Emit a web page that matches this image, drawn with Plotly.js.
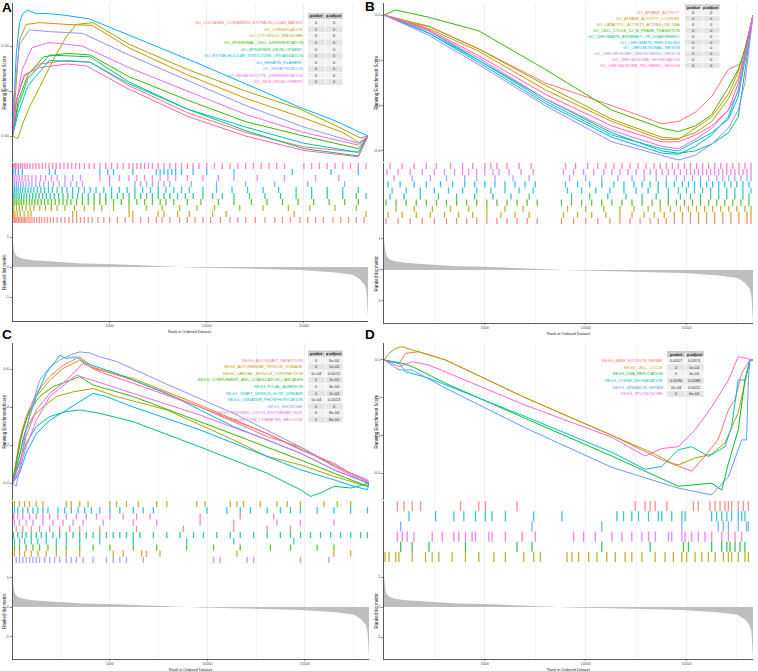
<!DOCTYPE html>
<html><head><meta charset="utf-8">
<script src="https://cdn.plot.ly/plotly-3.0.1.min.js"></script>
<style>html,body{margin:0;padding:0;background:#fff}#chart{width:758px;height:671px}</style>
</head><body><div id="chart"></div>
<script>
const N = 18300;
// ranked list metric (shared by all panels)
const rankX = [0,35,70,140,275,530,1050,1900,3620,5000,6200,7570,8300,8800,9630,11350,13070,14780,16500,17530,17870,18130,18220,18270,18300];
const rankY = [1.0,0.74,0.58,0.43,0.34,0.28,0.23,0.19,0.12,0.1,0.07,0.02,0,-0.005,-0.02,-0.04,-0.07,-0.1,-0.17,-0.26,-0.4,-0.6,-0.8,-1.65,-1.7];
const rankTicks = [5000,10000,15000];
const rankTickText = ["5000","10000","15000"];

// ---------------- Panel A ----------------
const namesA = ["GO_COLLAGEN_CONTAINING_EXTRACELLULAR_MATRIX","GO_CORNIFICATION","GO_CYTOSOLIC_RIBOSOME","GO_EPIDERMAL_CELL_DIFFERENTIATION","GO_EPIDERMIS_DEVELOPMENT","GO_EXTRACELLULAR_STRUCTURE_ORGANIZATION","GO_KERATIN_FILAMENT","GO_KERATINIZATION","GO_KERATINOCYTE_DIFFERENTIATION","GO_SKIN_DEVELOPMENT"];
const pvalueA = ["0","0","0","0","0","0","0","0","0","0"];
const padjA = ["0","0","0","0","0","0","0","0","0","0"];
const esA1 = [[0,0],[200,0.2],[600,0.33],[1400,0.40],[2800,0.42],[4000,0.41],[6000,0.28],[9000,0.13],[12000,0.02],[15000,-0.06],[17800,-0.09],[18300,0]];
const esA2 = [[0,0],[350,0.53],[700,0.62],[1400,0.63],[2800,0.62],[4100,0.615],[6000,0.49],[9000,0.34],[12000,0.21],[15000,0.1],[17000,0.02],[17900,-0.04],[18300,0]];
const esA3 = [[0,0],[275,-0.013],[530,0.07],[870,0.16],[1390,0.27],[2080,0.42],[2760,0.55],[3280,0.62],[4140,0.63],[6000,0.51],[9000,0.37],[12000,0.25],[14800,0.15],[16800,0.05],[17900,-0.01],[18300,0]];
const esA4 = [[0,0],[300,0.2],[800,0.34],[1600,0.44],[2800,0.46],[4000,0.45],[6000,0.33],[9000,0.2],[12000,0.08],[15000,0.0],[17800,-0.07],[18300,0]];
const esA5 = [[0,0],[300,0.17],[800,0.32],[1900,0.45],[4000,0.44],[6000,0.30],[9000,0.15],[12000,0.03],[15000,-0.07],[17800,-0.11],[18300,0]];
const esA6 = [[0,0],[300,0.13],[800,0.28],[1900,0.42],[4000,0.41],[6000,0.29],[9000,0.15],[12000,0.05],[15000,-0.04],[17800,-0.09],[18300,0]];
const esA7 = [[0,0],[190,0.45],[360,0.63],[530,0.68],[790,0.70],[1220,0.68],[1900,0.68],[2760,0.67],[3970,0.65],[6200,0.55],[9630,0.40],[13070,0.24],[14780,0.16],[16500,0.09],[18220,0.0],[18300,0]];
const esA8 = [[0,0],[50,0.2],[360,0.51],[875,0.59],[1900,0.58],[3620,0.57],[6000,0.45],[9000,0.31],[12000,0.17],[15000,0.05],[17800,-0.04],[18300,0]];
const esA9 = [[0,0],[100,0.12],[500,0.37],[1000,0.49],[1900,0.52],[3600,0.5],[6000,0.38],[9000,0.25],[12000,0.12],[15000,0.02],[17800,-0.05],[18300,0]];
const esA10 = [[0,0],[200,0.2],[600,0.34],[1400,0.38],[2800,0.40],[3800,0.39],[6000,0.26],[9000,0.11],[12000,0.0],[15000,-0.08],[17800,-0.115],[18300,0]];
const hitsA1 = [30,90,150,220,300,380,460,540,620,700,800,900,1000,1120,1250,1380,1500,1650,1800,1950,2100,2300,2500,2700,2900,3100,3300,3500,3700,3900,4100,4400,4700,5000,5400,5800,6200,6600,7000,7400,7700,8100,8600,9000,9400,9800,10200,10700,11200,11600,12000,12500,13000,13500,13900,14300,14800,15200,15600,16000,16500,16900,17300,17700,18100];
const hitsA2 = [40,120,250,400,600,800,950,3100,3300,6000,6200,7500,7800,8500,9100,10300,11000,14500,18200];
const hitsA3 = [60,200,350,500,700,900,1100,1400,1700,2000,2300,2700,3200,3700,4200,4600,5200,6000,6900,7700,8600,9500,10400,11700,12900,14200,15300,16600,17700];
const hitsA4 = [30,120,220,330,450,580,720,860,1000,1150,1300,1480,1650,1830,2000,2200,2400,2600,2800,3000,3300,3600,3900,4200,4500,4800,5200,5600,6000,6400,6800,7200,7600,7900,8300,9000,9700,10600,11400,12300,13100,13900,14700,15500,16300,17100,17800];
const hitsA5 = [40,130,230,340,460,590,730,880,1040,1200,1370,1550,1740,1940,2150,2370,2600,2850,3100,3350,3600,3900,4200,4500,4800,5100,5400,5700,6000,6300,6600,6900,7200,7500,7800,8100,8500,8900,9300,9800,10300,10800,11400,12200,13000,13800,14600,15400,16200,17000,17700,18200];
const hitsA6 = [20,100,190,290,400,520,650,800,950,1100,1280,1460,1650,1850,2050,2300,2550,2800,3100,3400,3700,4000,4300,4700,5100,5500,5900,6300,6700,7100,7500,7900,8300,8700,9100,9800,10500,11300,12100,12900,13700,14600,15400,16200,17000,17800];
const hitsA7 = [30,150,300,500,1900,2200,4500,4900,5200,6200,7400,7600,7800,8000,8200,8400,8700,9300,10000,11400,14400,16400,17800];
const hitsA8 = [20,100,200,300,420,550,700,850,1000,1200,1400,1600,1850,2100,2400,2700,3000,3300,3600,5000,6300,6600,6900,7200,7500,7800,8100,9200,10500,12000,13500,15200,17100];
const hitsA9 = [30,120,230,350,500,650,800,1000,1200,1450,1700,2000,2300,2700,3100,3500,4500,5000,5500,6000,6400,6800,7200,7600,8000,8400,9000,9800,10600,11400,12600,14000,15600,16800];
const hitsA10 = [20,80,150,230,320,420,520,640,760,900,1050,1200,1360,1530,1700,1880,2060,2250,2450,2650,2850,3050,3250,3450,3700,3950,4200,4500,4800,5100,5400,5700,6000,6200,6400,6600,6800,7000,7200,7500,7800,8100,8400,8700,9000,9300,9600,10000,10400,10800,11200,11600,12000,12400,12800,13200,13600,14000,15000,15400,15800,16200,16600,17000,17400,17800,18200];
const rowsA = [0,1,2,3,4,5,8,6,7,9];

// ---------------- Panel B ----------------
const namesB = ["GO_ATPASE_ACTIVITY","GO_ATPASE_ACTIVITY_COUPLED","GO_CATALYTIC_ACTIVITY_ACTING_ON_DNA","GO_CELL_CYCLE_G2_M_PHASE_TRANSITION","GO_CHROMATIN_ASSEMBLY_OR_DISASSEMBLY","GO_CHROMATIN_REMODELING","GO_CHROMOSOMAL_REGION","GO_CHROMOSOME_CENTROMERIC_REGION","GO_CHROMOSOME_SEGREGATION","GO_CHROMOSOME_TELOMERIC_REGION"];
const pvalueB = ["0","0","0","0","0","0","0","0","0","0"];
const padjB = ["0","0","0","0","0","0","0","0","0","0"];
const esB1 = [[0,0],[1000,-0.03],[2228,-0.05],[4700,-0.15],[8000,-0.30],[11300,-0.40],[13780,-0.48],[14600,-0.47],[15430,-0.43],[16250,-0.36],[17080,-0.24],[17570,-0.22],[17900,-0.2],[18300,0]];
const esB2 = [[0,0],[2228,-0.06],[4700,-0.16],[8000,-0.33],[11300,-0.47],[13780,-0.55],[14600,-0.55],[15430,-0.50],[16250,-0.45],[17080,-0.35],[17570,-0.25],[17900,-0.15],[18300,0]];
const esB3 = [[0,0],[2228,-0.05],[4700,-0.15],[8000,-0.31],[11300,-0.46],[13780,-0.54],[14600,-0.545],[15430,-0.52],[16250,-0.47],[17080,-0.37],[17570,-0.28],[17900,-0.17],[18300,0]];
const esB4 = [[0,0],[578,0.022],[2228,-0.01],[4700,-0.07],[8000,-0.24],[11300,-0.42],[13780,-0.50],[14600,-0.515],[15430,-0.49],[16250,-0.44],[17080,-0.32],[17570,-0.24],[17900,-0.15],[18300,0]];
const esB5 = [[0,0],[2228,-0.07],[4700,-0.2],[8000,-0.37],[11300,-0.52],[13780,-0.60],[14600,-0.61],[15430,-0.60],[16250,-0.57],[17080,-0.52],[17570,-0.45],[17900,-0.25],[18300,0]];
const esB6 = [[0,0],[2228,-0.08],[4700,-0.2],[8000,-0.38],[11300,-0.53],[13780,-0.59],[14600,-0.60],[15430,-0.56],[16250,-0.52],[17080,-0.46],[17570,-0.36],[17900,-0.2],[18300,0]];
const esB7 = [[0,0],[2228,-0.08],[4700,-0.21],[8000,-0.39],[11300,-0.54],[13780,-0.61],[14600,-0.615],[15430,-0.58],[16250,-0.53],[17080,-0.45],[17570,-0.33],[17900,-0.18],[18300,0]];
const esB8 = [[0,0],[2228,-0.09],[4700,-0.22],[8000,-0.40],[11300,-0.56],[13780,-0.62],[14600,-0.64],[15430,-0.62],[16250,-0.57],[17080,-0.5],[17570,-0.42],[17900,-0.3],[18300,0]];
const esB9 = [[0,0],[2228,-0.07],[4700,-0.19],[8000,-0.37],[11300,-0.51],[13780,-0.58],[14600,-0.59],[15430,-0.55],[16250,-0.5],[17080,-0.42],[17570,-0.34],[17900,-0.2],[18300,0]];
const esB10 = [[0,0],[2228,-0.065],[4700,-0.18],[8000,-0.35],[11300,-0.49],[13780,-0.56],[14600,-0.56],[15430,-0.53],[16250,-0.49],[17080,-0.42],[17570,-0.3],[17900,-0.17],[18300,0]];
const hitsB1 = [100,700,1300,1900,2500,3100,3600,4100,4600,5100,5600,6100,6600,7100,7600,8800,9400,10000,10600,11200,11700,12200,12700,13200,13600,14000,14400,14800,15200,15600,16000,16400,16800,17200,17600,18000,18200];
const hitsB2 = [200,900,1600,2300,3000,3700,4400,5100,5800,6500,7200,8900,9600,10300,11000,11700,12300,12900,13400,13900,14400,14800,15200,15600,16000,16400,16800,17200,17600,18000,18200];
const hitsB3 = [600,1500,2400,3300,4200,5100,6000,6900,9100,10000,10900,11700,12400,13100,13700,14200,14700,15100,15500,15900,16300,16700,17100,17500,17900,18200];
const hitsB4 = [100,600,1100,1600,2100,2600,3100,3600,4100,4600,5100,5600,6100,6600,7100,7600,8800,9300,9800,10300,10800,11300,11800,12300,12800,13300,13700,14100,14500,14900,15300,15700,16100,16500,16900,17300,17700,18100];
const hitsB5 = [300,1000,1800,2700,3600,4500,5400,6300,7200,9300,10200,11100,12000,12800,13500,14100,14700,15200,15700,16200,16600,17000,17400,17800,18100];
const hitsB6 = [400,1100,1800,2500,3200,3900,4600,5300,6000,6700,7400,9100,9800,10500,11200,11900,12500,13100,13600,14100,14600,15000,15400,15800,16200,16600,17000,17400,17800,18200];
const hitsB7 = [200,800,1500,2100,2800,3400,4000,4500,5000,5500,6000,6500,7000,7500,9000,9600,10200,10800,11400,11900,12400,12800,13200,13600,14000,14400,14800,15100,15400,15700,16000,16300,16600,16900,17200,17500,17800,18100];
const hitsB8 = [500,1400,2300,3100,4000,4600,5500,6400,7200,9200,10000,10800,11600,12300,12900,13500,14000,14500,14900,15300,15700,16100,16500,16800,17100,17400,17700,18000,18200];
const hitsB9 = [150,700,1300,1900,2500,3000,3500,3900,4200,4600,5000,5400,5700,6200,6800,7400,8900,9400,9900,10400,10900,11300,11700,12100,12500,12900,13200,13500,13800,14100,14400,14700,15000,15200,15400,15600,15800,16000,16200,16400,16600,16800,17000,17200,17400,17600,17800,18000,18200];
const hitsB10 = [300,900,1500,2100,2600,3300,3900,4400,5000,5300,5600,6100,6700,7300,9000,9500,10100,10600,11000,11400,11800,12200,12600,13000,13400,13700,14000,14300,14600,14900,15200,15500,15800,16100,16400,16700,17000,17300,17600,17900,18200];
const rowsB = [0,1,2,3,4,5,6,7,8,9];

// ---------------- Panel C ----------------
const namesC = ["KEGG_ALLOGRAFT_REJECTION","KEGG_AUTOIMMUNE_THYROID_DISEASE","KEGG_CARDIAC_MUSCLE_CONTRACTION","KEGG_COMPLEMENT_AND_COAGULATION_CASCADES","KEGG_FOCAL_ADHESION","KEGG_GRAFT_VERSUS_HOST_DISEASE","KEGG_OXIDATIVE_PHOSPHORYLATION","KEGG_RIBOSOME","KEGG_SYSTEMIC_LUPUS_ERYTHEMATOSUS","KEGG_TYPE_I_DIABETES_MELLITUS"];
const pvalueC = ["0","0","1e-04","0","0","0","1e-04","0","0","0"];
const padjC = ["6e-04","1e-04","0.0015","2e-04","3e-04","2e-04","0.0013","0","8e-04","8e-04"];
const esC1 = [[0,0],[360,0.227],[700,0.35],[1220,0.472],[1910,0.56],[2590,0.62],[3280,0.656],[3450,0.664],[4140,0.61],[6200,0.54],[9630,0.40],[13070,0.245],[14780,0.19],[16500,0.087],[18220,0],[18300,0]];
const esC2 = [[0,0],[360,0.21],[700,0.33],[1220,0.455],[1910,0.54],[2590,0.603],[3280,0.638],[3450,0.647],[4140,0.603],[6200,0.55],[9630,0.41],[13070,0.26],[14780,0.18],[16500,0.096],[18220,0.009],[18300,0]];
const esC3 = [[0,0],[360,0.14],[700,0.28],[1050,0.35],[1560,0.40],[2250,0.455],[3110,0.48],[4140,0.498],[5340,0.455],[7920,0.385],[11350,0.227],[13070,0.14],[14780,0.096],[16500,0.035],[18220,-0.017],[18300,0]];
const esC4 = [[0,0],[275,0.14],[530,0.28],[880,0.385],[1390,0.455],[2080,0.507],[2760,0.533],[3450,0.56],[4140,0.516],[6200,0.455],[9630,0.323],[13070,0.19],[14780,0.122],[16500,0.052],[18220,-0.017],[18300,0]];
const esC5 = [[0,0],[360,0.105],[700,0.21],[1220,0.297],[1910,0.35],[2760,0.376],[3450,0.385],[4480,0.367],[6200,0.323],[9630,0.19],[13070,0.052],[14780,-0.035],[15300,-0.07],[15810,-0.052],[16500,-0.017],[17360,-0.026],[18220,0],[18300,0]];
const esC6 = [[0,0],[275,0.105],[530,0.227],[880,0.35],[1220,0.455],[1730,0.577],[2250,0.647],[2420,0.673],[2760,0.656],[3280,0.664],[3800,0.63],[5340,0.577],[7920,0.472],[11350,0.297],[14780,0.157],[16500,0.07],[18220,0],[18300,0]];
const esC7 = [[0,0],[360,0.052],[700,0.157],[1220,0.26],[1910,0.33],[2760,0.385],[3620,0.437],[4140,0.472],[4820,0.455],[6200,0.40],[9630,0.28],[13070,0.14],[14780,0.07],[16500,0.017],[17530,-0.017],[18220,-0.035],[18300,0]];
const esC8 = [[0,0],[190,-0.017],[360,0.07],[700,0.28],[1050,0.42],[1390,0.54],[1910,0.61],[2420,0.647],[3110,0.68],[3450,0.69],[3970,0.685],[4480,0.664],[5340,0.64],[7920,0.52],[11350,0.367],[14780,0.19],[16500,0.095],[18220,0.009],[18300,0]];
const esC9 = [[0,0],[360,0.07],[700,0.19],[1220,0.33],[1910,0.455],[2760,0.525],[3280,0.568],[4140,0.54],[6200,0.472],[9630,0.358],[13070,0.227],[14780,0.157],[16500,0.07],[18220,0],[18300,0]];
const esC10 = [[0,0],[360,0.105],[700,0.245],[1220,0.385],[1910,0.472],[2760,0.54],[3280,0.594],[3620,0.63],[4480,0.585],[6200,0.525],[9630,0.40],[13070,0.26],[14780,0.175],[16500,0.105],[17200,0.06],[18220,0.017],[18300,0]];
const hitsC1 = [190,530,960,1390,1910,2420,2940,3450,4480,6370,8770,11350,13070,14270];
const hitsC2 = [100,360,620,960,1300,1730,2250,2760,3450,5170,5680,6630,6880,7570,11520,16500,17360];
const hitsC3 = [100,360,620,880,1220,1560,2760,3020,3450,3880,5000,5340,5850,6460,7400,7920,9460,9890,11180,11520,11860,12720,13580,14100,14780,15990,16670,17360];
const hitsC4 = [100,360,700,1050,1390,1820,2250,2760,3450,4140,5000,6200,7400,8940,10320,11690,13240,14270,15640,16500];
const hitsC5 = [50,270,500,700,960,1220,1480,1730,2080,2420,2760,3110,3450,3790,4140,4480,4820,5170,5510,5850,6200,6540,7230,7920,8600,9290,9800,10490,11180,11690,12380,13070,13750,14270,14780,15300,15810,16330,16840,17360,17870,18220];
const hitsC6 = [100,360,620,960,1300,1730,2250,2760,3450,4480,6200,8940,11350,14440];
const hitsC7 = [100,270,530,790,1050,1300,1560,1820,2330,2680,3020,3370,3710,4050,4480,5000,5510,6200,6710,7230,9980,11000,11690,12210,13070,13750,14270,14780,15640,16500,17360,18220];
const hitsC8 = [190,360,530,700,880,1050,1220,1390,1650,1910,2160,2420,2760,3020,3280,3620,4140,4820,5170,5510,5850,6710,10320,10660,12040,12380,14780,16240];
const hitsC9 = [100,360,700,1050,1560,2080,2590,3110,3620,4650,6200,7400,9630,11350,13580,14780,16500];
const hitsC10 = [50,270,530,880,1220,1560,1910,2330,2760,3280,3790,4310,5000,5680,6370,7060,9630,11690,13410];
const rowsC = [5,1,9,2,4,3,8,0,6,7];

// ---------------- Panel D ----------------
const namesD = ["KEGG_BASE_EXCISION_REPAIR","KEGG_CELL_CYCLE","KEGG_DNA_REPLICATION","KEGG_LYSINE_DEGRADATION","KEGG_MISMATCH_REPAIR","KEGG_SPLICEOSOME"];
const pvalueD = ["0.0057","0","0","0.0036","2e-04","0"];
const padjD = ["0.0374","1e-04","3e-04","0.0288","0.0021","6e-04"];
const esD1 = [[0,0],[743,-0.018],[1073,0.035],[1733,0.044],[3053,0],[7000,-0.2],[11300,-0.40],[13780,-0.53],[15260,-0.59],[15920,-0.51],[16580,-0.42],[17080,-0.265],[17410,-0.21],[17740,-0.07],[18150,0],[18300,0]];
const esD2 = [[0,0],[248,0.035],[578,0.062],[908,0.07],[1400,0.053],[2228,0.027],[3053,0],[7000,-0.2],[11300,-0.40],[13450,-0.50],[14270,-0.548],[14600,-0.557],[15430,-0.52],[16250,-0.50],[16910,-0.44],[17570,-0.28],[17900,-0.12],[18150,0],[18300,0]];
const esD3 = [[0,0],[908,-0.018],[1403,-0.035],[3053,-0.124],[7000,-0.31],[11300,-0.51],[14600,-0.67],[16250,-0.654],[16750,-0.69],[17080,-0.548],[17570,-0.37],[17900,-0.106],[18150,0],[18300,0]];
const esD4 = [[0,0],[743,-0.018],[1073,-0.062],[2228,-0.097],[7000,-0.30],[11300,-0.49],[12950,-0.58],[13780,-0.565],[14600,-0.477],[15260,-0.46],[16090,-0.512],[16910,-0.46],[17240,-0.353],[17570,-0.106],[17900,-0.106],[18150,0],[18300,0]];
const esD5 = [[0,0],[743,-0.053],[1403,-0.053],[3053,-0.15],[7000,-0.36],[11300,-0.57],[14600,-0.68],[16250,-0.716],[17080,-0.62],[17570,-0.48],[17740,-0.424],[17980,-0.424],[18070,-0.106],[18150,0],[18300,0]];
const esD6 = [[0,0],[743,-0.035],[1400,-0.009],[2228,-0.027],[7000,-0.24],[11300,-0.41],[12950,-0.51],[13780,-0.47],[14600,-0.46],[15430,-0.37],[16250,-0.25],[17080,-0.106],[17570,0.018],[17900,0.01],[18150,0],[18300,0]];
const hitsD1 = [660,990,1400,1815,3795,4700,5030,6600,12460,12950,13200,13450,14025,15345,15590,16170,16420,16665,16910,17080,17240,17570,17820,18070];
const hitsD2 = [50,250,580,740,1400,2060,2390,2720,3380,4040,4700,5450,6020,6930,7425,7750,9075,9320,9650,10150,10560,11050,11470,11960,12290,12790,13450,13940,14350,14770,15010,15430,15760,16090,16420,16830,17080,17240,17570,17900,18070];
const hitsD3 = [825,1400,2230,4040,6600,7340,10800,13200,14850,15100,16250,16750,17000,17160,17410,17660,17900];
const hitsD4 = [1240,2560,3465,3960,4540,5030,5360,6020,7425,8830,11550,11880,12290,12620,13120,13610,13780,14270,14770,14930,16250,16500,16750,17000,17240,17570,17740,17900];
const hitsD5 = [825,7340,10800,14770,16580,16830,17080,17570,17980,18070];
const hitsD6 = [660,908,1155,1485,2390,2890,3465,3710,4040,4370,4540,5200,5360,6020,6850,7500,9400,9900,10480,11300,11800,12290,12790,13120,13450,14110,14270,14770,14930,15260,15590,15920,16250,16750,17080,17410,17740];
const rowsD = [5,0,1,4,3,2];

const colors10 = ["#F8766D","#D89000","#A3A500","#39B600","#00BF7D","#00BFC4","#00B0F6","#9590FF","#E76BF3","#FF62BC"];
const colors6 = ["#F8766D","#B79F00","#00BA38","#00BFC4","#619CFF","#F564E3"];

// ---------------- layout geometry (pixels) ----------------
const W = 758, H = 671;
const X = px => px / W, Y = py => 1 - py / H;
const geo = [
 {x0:12.5,x1:368,es:[3,162],rug:[163,223],rk:[223,321],esR:[-0.144,0.739],rkR:[-1.8,1.47],esT:[0,0.25,0.5],esL:["0.00","0.25","0.50"],lab:"A",lx:1,ly:-1,ytx:4,xtY:331.5,tb:{x0:308,cw:17,yh:16,st:6.6,nx:304}},
 {x0:384,x1:753,es:[3,162],rug:[163,224],rk:[224,323],esR:[-0.649,0.053],rkR:[-1.71,1.48],esT:[0,-0.2,-0.4,-0.6],esL:["0.0","-0.2","-0.4","-0.6"],lab:"B",lx:363.5,ly:-1.5,ytx:376,xtY:333.5,tb:{x0:685,cw:17,yh:7,st:5.85,nx:681}},
 {x0:12.5,x1:369,es:[343,500],rug:[501,563],rk:[563,659],esR:[-0.089,0.737],rkR:[-1.76,1.49],esT:[0,0.2,0.4,0.6],esL:["0.0","0.2","0.4","0.6"],lab:"C",lx:1,ly:326,ytx:4,xtY:669,tb:{x0:308,cw:17,yh:353.5,st:6.6,nx:304}},
 {x0:384,x1:753,es:[343,500],rug:[501,562],rk:[562,659],esR:[-0.743,0.09],rkR:[-1.73,1.5],esT:[0,-0.2,-0.4,-0.6],esL:["0.0","-0.2","-0.4","-0.6"],lab:"D",lx:363.5,ly:326,ytx:376,xtY:669,tb:{x0:667,cw:18,yh:354,st:6.66,nx:664}}
];

const panels = [
 {names:namesA,pv:pvalueA,pa:padjA,colors:colors10,curves:[esA1,esA2,esA3,esA4,esA5,esA6,esA7,esA8,esA9,esA10],hits:[hitsA1,hitsA2,hitsA3,hitsA4,hitsA5,hitsA6,hitsA7,hitsA8,hitsA9,hitsA10],rows:rowsA,g:geo[0]},
 {names:namesB,pv:pvalueB,pa:padjB,colors:colors10,curves:[esB1,esB2,esB3,esB4,esB5,esB6,esB7,esB8,esB9,esB10],hits:[hitsB1,hitsB2,hitsB3,hitsB4,hitsB5,hitsB6,hitsB7,hitsB8,hitsB9,hitsB10],rows:rowsB,g:geo[1]},
 {names:namesC,pv:pvalueC,pa:padjC,colors:colors10,curves:[esC1,esC2,esC3,esC4,esC5,esC6,esC7,esC8,esC9,esC10],hits:[hitsC1,hitsC2,hitsC3,hitsC4,hitsC5,hitsC6,hitsC7,hitsC8,hitsC9,hitsC10],rows:rowsC,g:geo[2]},
 {names:namesD,pv:pvalueD,pa:padjD,colors:colors6,curves:[esD1,esD2,esD3,esD4,esD5,esD6],hits:[hitsD1,hitsD2,hitsD3,hitsD4,hitsD5,hitsD6],rows:rowsD,g:geo[3]}
];

const FONT = "Liberation Sans, Arial, sans-serif";
const traces = [], shapes = [], ann = [];
const layout = {width:W,height:H,margin:{l:0,r:0,t:0,b:0},paper_bgcolor:"#fff",plot_bgcolor:"rgba(0,0,0,0)",showlegend:false,hovermode:false,font:{family:FONT,size:4,color:"#4D4D4D"}};
function note(o){ return Object.assign({xref:"paper",yref:"paper",showarrow:false,xanchor:"center",yanchor:"middle",borderpad:0}, o); }

panels.forEach((P,i)=>{
  const g = P.g;
  const doms = [g.es,g.rug,g.rk];
  const n = P.names.length;
  for (let s=0;s<3;s++){
    const k = i*3+s+1, sx = k>1?String(k):"";
    layout["xaxis"+sx] = {domain:[X(g.x0),X(g.x1)],range:[0,N],anchor:"y"+sx,
      tickmode:"array",tickvals:rankTicks,ticktext:rankTickText,showgrid:true,gridcolor:"#EBEBEB",gridwidth:0.8,
      minor:{tickmode:"array",tickvals:[2500,7500,12500,17500],showgrid:true,gridcolor:"#EFEFEF",gridwidth:0.6,ticks:""},
      zeroline:false,showticklabels:s===2,ticks:s===2?"outside":"",ticklen:1.2,tickwidth:0.6,tickcolor:"#333",
      tickfont:{size:3.6,color:"#4D4D4D",family:FONT},showline:s===2,linecolor:"#333",linewidth:0.8};
    const ya = {domain:[Y(doms[s][1]),Y(doms[s][0])],anchor:"x"+sx,showgrid:false,zeroline:false,showline:true,linecolor:"#333",linewidth:0.8,
      ticks:"outside",ticklen:2,tickwidth:0.6,tickcolor:"#333",tickfont:{size:4,color:"#4D4D4D",family:FONT}};
    if (s===0){ ya.range=g.esR; ya.tickmode="array"; ya.tickvals=g.esT; ya.ticktext=g.esL; }
    if (s===1){ ya.range=[0,n]; ya.showticklabels=false; ya.ticks=""; }
    if (s===2){ ya.range=g.rkR; ya.tickmode="array"; ya.tickvals=[-1,0,1]; ya.ticktext=["-1","0","1"]; }
    layout["yaxis"+sx] = ya;
  }
  const ax = k => (k>1?String(k):"");
  const a0 = ax(i*3+1), a1 = ax(i*3+2), a2 = ax(i*3+3);
  // ranked list metric
  traces.push({type:"scatter",mode:"lines",x:rankX,y:rankY,fill:"tozeroy",fillcolor:"#BEBEBE",line:{width:0,color:"#BEBEBE"},xaxis:"x"+a2,yaxis:"y"+a2});
  const rowPx = (g.rug[1]-g.rug[0])/n;
  P.curves.forEach((c,j)=>{
    traces.push({type:"scatter",mode:"lines",x:c.map(p=>p[0]),y:c.map(p=>p[1]),line:{color:P.colors[j],width:1},xaxis:"x"+a0,yaxis:"y"+a0});
  });
  P.hits.forEach((h,j)=>{
    traces.push({type:"scatter",mode:"markers",x:h,y:h.map(()=>P.rows[j]+0.5),opacity:0.8,
      marker:{symbol:"line-ns",size:rowPx/1.4,color:P.colors[j],line:{width:1.3,color:P.colors[j]}},xaxis:"x"+a1,yaxis:"y"+a1});
  });
  // axis titles & panel label
  const esMid = (g.es[0]+g.es[1])/2, rkMid = (g.rk[0]+g.rk[1])/2;
  ann.push(note({x:X(g.ytx),y:Y(esMid),text:"Running Enrichment Score",textangle:-90,font:{size:4.5,color:"#222",family:FONT}}));
  ann.push(note({x:X(g.ytx),y:Y(rkMid),text:"Ranked list metric",textangle:-90,font:{size:4.5,color:"#222",family:FONT}}));
  ann.push(note({x:X((g.x0+g.x1)/2),y:Y(g.xtY),text:"Rank in Ordered Dataset",font:{size:3.9,color:"#222",family:FONT}}));
  ann.push(note({x:X(g.lx),y:Y(g.ly),xanchor:"left",yanchor:"top",text:"<b>"+g.lab+"</b>",font:{size:13.5,color:"#000",family:FONT}}));
  // p-value table
  const t = g.tb;
  const cx = [t.x0, t.x0+t.cw+0.7];
  const heads = ["pvalue","p.adjust"];
  for (let c=0;c<2;c++){
    shapes.push({type:"rect",xref:"paper",yref:"paper",x0:X(cx[c]),x1:X(cx[c]+t.cw),y0:Y(t.yh+t.st/2-0.3),y1:Y(t.yh-t.st/2+0.3),fillcolor:"#CCCCCC",line:{width:0},layer:"above"});
    ann.push(note({x:X(cx[c]+t.cw/2),y:Y(t.yh),text:"<b>"+heads[c]+"</b>",font:{size:4,color:"#222",family:FONT}}));
  }
  for (let r=0;r<n;r++){
    const yc = t.yh + t.st*(r+1);
    const vals = [P.pv[r], P.pa[r]];
    for (let c=0;c<2;c++){
      shapes.push({type:"rect",xref:"paper",yref:"paper",x0:X(cx[c]),x1:X(cx[c]+t.cw),y0:Y(yc+t.st/2-0.3),y1:Y(yc-t.st/2+0.3),fillcolor:r%2===0?"#F2F2F2":"#E5E5E5",line:{width:0},layer:"above"});
      ann.push(note({x:X(cx[c]+t.cw/2),y:Y(yc),text:vals[c],font:{size:4,color:"#333",family:FONT}}));
    }
    ann.push(note({x:X(t.nx),y:Y(yc),xanchor:"right",text:P.names[r],font:{size:3.9,color:P.colors[r],family:FONT}}));
  }
});
layout.shapes = shapes;
layout.annotations = ann;
Plotly.newPlot("chart", traces, layout, {staticPlot:true,displayModeBar:false});
</script>
</body></html>
